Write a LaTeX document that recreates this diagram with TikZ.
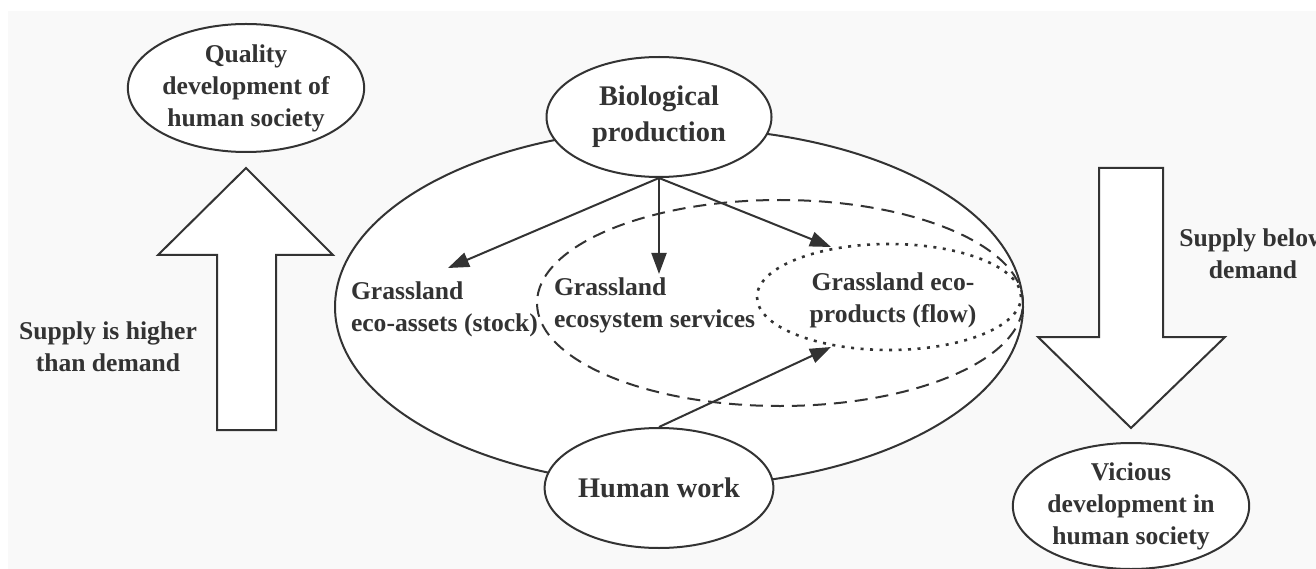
\documentclass[tikz,border=0pt]{standalone}
\usepackage{fontspec}
\setmainfont{Liberation Serif}
\usetikzlibrary{shapes.geometric, arrows.meta}
\definecolor{ink}{HTML}{333333}
\definecolor{paper}{HTML}{F9F9F9}
\begin{document}
\begin{tikzpicture}[x=1pt, y=-1pt,
  line width=2pt,
  smallfont/.style={font=\bfseries\fontsize{25.6}{32}\selectfont},
  bigfont/.style={font=\bfseries\fontsize{28.4}{36}\selectfont},
  bubble/.style={ellipse, draw=ink, fill=white, line width=2pt, inner sep=0pt,
                 align=center, text=ink},
  region/.style={ellipse, draw=ink, line width=2pt, inner sep=0pt},
  label/.style={smallfont, text=ink, inner sep=0pt},
  blockarrow/.style={draw=ink, fill=white, line width=2pt, line join=miter},
  flow/.style={draw=ink, line width=2pt, -{Triangle[length=21pt, width=15pt]}}
]
% page and background panel
\useasboundingbox (0,0) rectangle (1316,569);
\fill[white] (0,0) rectangle (1316,569);
\fill[paper] (8,11) rectangle (1316,569);

% nested regions: eco-assets, ecosystem services, eco-products
\node[region, fill=white, minimum width=688pt, minimum height=358pt] (assets) at (679,307) {};
\node[region, dash pattern=on 13pt off 8pt, minimum width=486pt, minimum height=206pt] (services) at (780,303) {};
\node[region, line width=2.6pt, dash pattern=on 3pt off 6.5pt, minimum width=264pt, minimum height=106pt] (products) at (889,297) {};

% region labels
\node[label, anchor=west, align=left] (assetstext) at (350,309) {Grassland\\eco-assets (stock)};
\node[label, anchor=west, align=left] (servicestext) at (553,305) {Grassland\\ecosystem services};
\node[label, align=center] (productstext) at (893,300) {Grassland eco-\\products (flow)};

% block arrows
\draw[blockarrow] (246,168) -- (333,255) -- (276,255) -- (276,430) -- (217,430)
  -- (217,255) -- (158,255) -- cycle;
\draw[blockarrow] (1099,168) -- (1163,168) -- (1163,337) -- (1225,337) -- (1131,428)
  -- (1038,337) -- (1099,337) -- cycle;

% side labels
\node[label, align=center] (higher) at (108,347) {Supply is higher\\than demand};
\node[label, align=center] (below) at (1253,254) {Supply below\\demand};

% outcome bubbles
\node[bubble, smallfont, minimum width=224pt, minimum height=128pt] (quality) at (246,88)
  {Quality\\development of\\human society};
\node[bubble, smallfont, minimum width=224pt, minimum height=126pt] (vicious) at (1131,506)
  {Vicious\\development in\\human society};

% drivers
\node[bubble, bigfont, minimum width=225pt, minimum height=120pt] (bio) at (659,117)
  {Biological\\production};
\node[bubble, bigfont, minimum width=225pt, minimum height=120pt] (work) at (659,488)
  {Human work};

% arrow targets
\coordinate (tipassets) at (448,268);
\coordinate (tipservices) at (659,274);
\coordinate (tipproducts) at (831,247);
\coordinate (tipwork) at (831,347);

\draw[flow] (bio.south) -- (tipassets);
\draw[flow] (bio.south) -- (tipservices);
\draw[flow] (bio.south) -- (tipproducts);
\draw[flow] (work.north) -- (tipwork);
\end{tikzpicture}
\end{document}
